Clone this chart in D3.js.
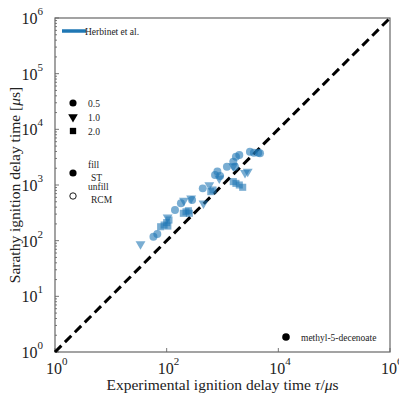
<!DOCTYPE html>
<html>
<head>
<meta charset="utf-8">
<script src="https://cdn.jsdelivr.net/npm/d3@7"></script>
<style>
  body { margin: 0; background: #fff; }
  text { font-family: "Liberation Serif", "DejaVu Serif", serif; }
</style>
</head>
<body>
<div id="chart"></div>
<script>
// phi = 0.5 (circles)
let circleExp = [58, 68, 141, 180, 285, 443, 735, 810, 905, 1200, 1560, 1740, 2000, 1670, 3100, 3650, 4370, 4700]
let circleSim = [118, 132, 355, 468, 537, 870, 1510, 1740, 1450, 2130, 2630, 3220, 3460, 2130, 3960, 3800, 3800, 3720]
// phi = 1.0 (triangles)
let triExp = [34, 104, 204, 274, 580, 456, 875, 1560, 2830, 2530]
let triSim = [87, 263, 524, 576, 1000, 468, 1320, 2190, 1740, 1660]
// phi = 2.0 (squares)
let squareExp = [78, 90, 100, 105, 110, 199, 222, 245, 255, 617, 676, 1560, 1740, 2000, 2300]
let squareSim = [178, 191, 211, 183, 235, 310, 330, 345, 310, 760, 813, 1150, 1070, 1000, 910]

let decades = [0, 1, 2, 3, 4, 5, 6]
let xLabelDecades = [0, 2, 4, 6]
let phiLabels = ["0.5", "1.0", "2.0"]

function drawChart(){
    let width = 399
    let height = 397
    let margin = {top: 18, bottom: 45, left: 55, right: 9}
    let blue = "#1f77b4"
    let svg = d3.select("#chart")
        .append("svg")
            .attr("width", width)
            .attr("height", height)

    let x = d3.scaleLog()
        .domain([1, 1e6])
        .range([margin.left, width - margin.right])
    let y = d3.scaleLog()
        .domain([1, 1e6])
        .range([height - margin.bottom, margin.top])

    let x0 = x.range()[0], x1 = x.range()[1]
    let y0 = y.range()[0], y1 = y.range()[1]

    // minor ticks on the left axis
    let minor = []
    decades.slice(0, 6).forEach(function(d){
        for (let k = 2; k < 10; k++) minor.push(k * Math.pow(10, d))
    })
    svg.selectAll(".yminor")
        .data(minor)
        .enter()
        .append("line")
            .attr("class", "yminor")
            .attr("x1", x0).attr("x2", x0 + 2)
            .attr("y1", d => y(d)).attr("y2", d => y(d))
            .attr("stroke", "#555").attr("stroke-width", 0.8)
    svg.selectAll(".ymajor")
        .data(decades)
        .enter()
        .append("line")
            .attr("class", "ymajor")
            .attr("x1", x0).attr("x2", x0 + 4)
            .attr("y1", d => y(Math.pow(10, d))).attr("y2", d => y(Math.pow(10, d)))
            .attr("stroke", "#555").attr("stroke-width", 0.8)
    svg.selectAll(".xmajor")
        .data(xLabelDecades)
        .enter()
        .append("line")
            .attr("class", "xmajor")
            .attr("x1", d => x(Math.pow(10, d))).attr("x2", d => x(Math.pow(10, d)))
            .attr("y1", y0).attr("y2", y0 - 4)
            .attr("stroke", "#555").attr("stroke-width", 0.8)

    // frame
    svg.append("rect")
        .attr("x", x0).attr("y", y1)
        .attr("width", x1 - x0).attr("height", y0 - y1)
        .attr("fill", "none")
        .attr("stroke", "#666")
        .attr("stroke-width", 1.2)

    // tick labels
    let yl = svg.selectAll(".ylab")
        .data(decades)
        .enter()
        .append("text")
            .attr("class", "ylab")
            .attr("x", x0 - 12)
            .attr("y", d => y(Math.pow(10, d)) + 6)
            .attr("text-anchor", "end")
            .attr("font-size", 16)
            .attr("fill", "#222")
    yl.append("tspan").text("10")
    yl.append("tspan").attr("dy", -9).attr("font-size", 11).text(d => d)

    let xl = svg.selectAll(".xlab")
        .data(xLabelDecades)
        .enter()
        .append("text")
            .attr("class", "xlab")
            .attr("x", d => x(Math.pow(10, d)) - 9)
            .attr("y", y0 + 22)
            .attr("font-size", 16)
            .attr("fill", "#222")
    xl.append("tspan").text("10")
    xl.append("tspan").attr("dy", -9).attr("font-size", 11).text(d => d)

    // axis titles
    let xt = svg.append("text")
        .attr("x", (x0 + x1) / 2)
        .attr("y", 390)
        .attr("text-anchor", "middle")
        .attr("font-size", 15.5)
        .attr("fill", "#222")
    xt.append("tspan").text("Experimental ignition delay time ")
    xt.append("tspan").attr("font-style", "italic").text("τ")
    xt.append("tspan").text("/")
    xt.append("tspan").attr("font-style", "italic").text("μ")
    xt.append("tspan").text("s")

    let yt = svg.append("text")
        .attr("transform", "translate(20," + ((y0 + y1) / 2) + ") rotate(-90)")
        .attr("text-anchor", "middle")
        .attr("font-size", 15.5)
        .attr("fill", "#222")
    yt.append("tspan").text("Sarathy ignition delay time [")
    yt.append("tspan").attr("font-style", "italic").text("μ")
    yt.append("tspan").text("s]")

    // parity line
    svg.append("line")
        .attr("x1", x(1)).attr("y1", y(1))
        .attr("x2", x(1e6)).attr("y2", y(1e6))
        .attr("stroke", "black")
        .attr("stroke-width", 3)
        .attr("stroke-dasharray", "9,5")

    // data
    let circleData = circleExp.map((d, i) => [d, circleSim[i]])
    let triData = triExp.map((d, i) => [d, triSim[i]])
    let squareData = squareExp.map((d, i) => [d, squareSim[i]])

    let pts = svg.append("g")
    pts.selectAll(".circ")
        .data(circleData)
        .enter()
        .append("path")
            .attr("class", "circ")
            .attr("d", d3.symbol(d3.symbolCircle, 50))
            .attr("transform", d => "translate(" + x(d[0]) + "," + y(d[1]) + ")")
            .attr("fill", blue).attr("fill-opacity", 0.6)
    pts.selectAll(".tri")
        .data(triData)
        .enter()
        .append("path")
            .attr("class", "tri")
            .attr("d", d3.symbol(d3.symbolTriangle, 42))
            .attr("transform", d => "translate(" + x(d[0]) + "," + y(d[1]) + ") rotate(180)")
            .attr("fill", blue).attr("fill-opacity", 0.6)
    pts.selectAll(".sq")
        .data(squareData)
        .enter()
        .append("path")
            .attr("class", "sq")
            .attr("d", d3.symbol(d3.symbolSquare, 50))
            .attr("transform", d => "translate(" + x(d[0]) + "," + y(d[1]) + ")")
            .attr("fill", blue).attr("fill-opacity", 0.6)

    // legends
    svg.append("line")
        .attr("x1", 62).attr("x2", 86)
        .attr("y1", 31).attr("y2", 31)
        .attr("stroke", blue).attr("stroke-width", 3.5)
    svg.append("text")
        .attr("x", 85).attr("y", 34.5)
        .attr("font-size", 9.5).attr("fill", "#222")
        .text("Herbinet et al.")

    let symbols = [
        [d3.symbolCircle, 0],
        [d3.symbolTriangle, 180],
        [d3.symbolSquare, 0]
    ]
    let phiG = svg.selectAll(".phi")
        .data(phiLabels)
        .enter()
        .append("g")
            .attr("class", "phi")
            .attr("transform", (d, i) => "translate(73," + (103 + i * 14) + ")")
    phiG.append("path")
        .attr("d", (d, i) => d3.symbol(symbols[i][0], 40)())
        .attr("transform", (d, i) => "rotate(" + symbols[i][1] + ")")
        .attr("fill", "black")
    phiG.append("text")
        .attr("x", 15).attr("y", 3.5)
        .attr("font-size", 9.5).attr("fill", "#222")
        .text(d => d)

    svg.append("circle")
        .attr("cx", 73).attr("cy", 173).attr("r", 3.6)
        .attr("fill", "black")
    svg.append("text").attr("x", 88).attr("y", 168)
        .attr("font-size", 9.5).attr("fill", "#222").text("fill")
    svg.append("text").attr("x", 91).attr("y", 180.5)
        .attr("font-size", 9.5).attr("fill", "#222").text("ST")
    svg.append("circle")
        .attr("cx", 73).attr("cy", 196).attr("r", 3.2)
        .attr("fill", "none").attr("stroke", "black").attr("stroke-width", 0.9)
    svg.append("text").attr("x", 88).attr("y", 190)
        .attr("font-size", 9.5).attr("fill", "#222").text("unfill")
    svg.append("text").attr("x", 91).attr("y", 202.5)
        .attr("font-size", 9.5).attr("fill", "#222").text("RCM")

    svg.append("circle")
        .attr("cx", 286).attr("cy", 337).attr("r", 3.8)
        .attr("fill", "black")
    svg.append("text").attr("x", 301).attr("y", 340.5)
        .attr("font-size", 9.5).attr("fill", "#222").text("methyl-5-decenoate")
}
drawChart()
</script>
</body>
</html>
